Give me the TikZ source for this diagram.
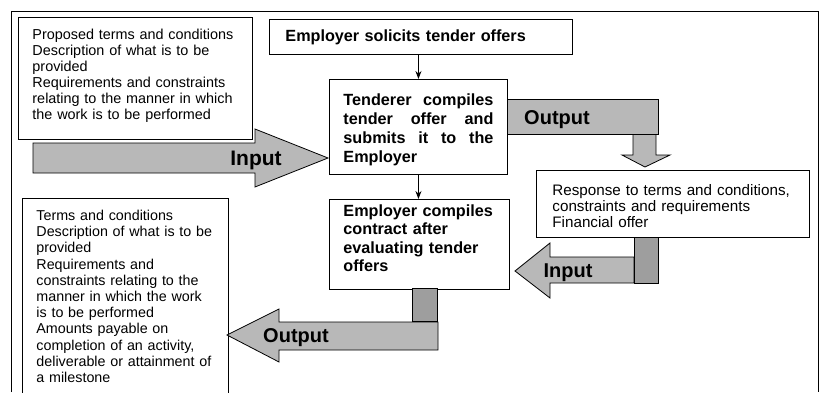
\documentclass[tikz,border=0pt]{standalone}
\usepackage{fontspec}
\setmainfont{Liberation Sans}
\usetikzlibrary{arrows.meta}
\usetikzlibrary{calc}

\definecolor{blockgray}{gray}{0.72}
\definecolor{stubgray}{gray}{0.62}

\begin{document}
\begin{tikzpicture}[x=1pt, y=1pt,
  box/.style={draw, line width=0.9pt, anchor=north west, inner ysep=4pt, align=left},
  plain/.style={font=\fontsize{14.4}{16}\selectfont},
  strong/.style={font=\bfseries\fontsize{16.2}{19}\selectfont},
  block/.style={draw, line width=0.8pt, fill=blockgray, line join=miter},
  stub/.style={draw, line width=0.8pt, fill=stubgray},
  tag/.style={font=\bfseries\fontsize{#1}{#1}\selectfont, inner sep=0pt},
  conn/.style={-{Stealth[length=8pt,width=6pt]}, line width=0.9pt}]
\useasboundingbox (0,0) rectangle (821,392);
\draw[line width=0.9pt] (11,0) |- (818,381) -- (818,0);

% boxes
\node[box, plain, text width=206pt, inner xsep=14pt, inner ysep=9pt, text height=13pt, text depth=91pt] (prop) at (18,375)
  {Proposed terms and conditions\\ Description of what is to be\\ provided\\ Requirements and constraints\\ relating to the manner in which\\ the work is to be performed};
\node[box, strong, text width=271pt, inner xsep=16pt, minimum height=35pt] (solicit) at (269,373) {Employer solicits tender offers};
\node[box, strong, text width=150pt, inner xsep=14pt, text height=22pt, text depth=65pt] (tender) at (329,313)
  {Tenderer\hfill compiles\\ tender\hfill offer\hfill and\\ submits\hfill it\hfill to\hfill the\\ Employer};
\node[box, strong, font=\bfseries\fontsize{16.2}{18.5}\selectfont, text width=152pt, inner xsep=14pt, text height=13pt, text depth=69pt] (emp) at (329,193)
  {Employer compiles\\ contract after\\ evaluating tender\\ offers};
\node[box, font=\fontsize{15.2}{16}\selectfont, text width=241pt, inner xsep=16pt, text height=21pt, text depth=38pt] (resp) at (536,222)
  {Response to terms and conditions,\\ constraints and requirements\\ Financial offer};
\node[box, font=\fontsize{14.3}{16.2}\selectfont, text width=178pt, inner xsep=14pt, text height=18pt, text depth=200pt] (terms) at (22,194)
  {Terms and conditions\\ Description of what is to be\\ provided\\ Requirements and\\ constraints relating to the\\ manner in which the work\\ is to be performed\\ Amounts payable on\\ completion of an activity,\\ deliverable or attainment of\\ a milestone};

\draw[conn] (tender.north |- solicit.south) -- (tender.north);
\draw[conn] (tender.south) -- (tender.south |- emp.north);

% input to the tenderer
\draw[block] (33,249) -- (255,249) -- (255,263) -- (328,234) -- (255,205) -- (255,219) -- (33,219) -- cycle;
\node[tag=21] (inTop) at (256,232) {Input};

% output of the tenderer
\draw[block] (633,258) -- (633,237) -- (622,237) -- (645,225) -- (670,237) -- (656,237) -- (656,258);
\draw[block] (507,293) rectangle (658,258);
\node[tag=20] (outTop) at (557,272) {Output};

% input to the employer
\draw[block] (634,109) -- (550,109) -- (550,94) -- (515,121) -- (550,149) -- (550,135) -- (634,135) -- cycle;
\draw[stub] (634,155) rectangle (658,109);
\node[tag=20] (inLow) at (568,119) {Input};

% output of the employer
\draw[stub] (412,104) rectangle (437,71);
\draw[block] (438,70) -- (279,70) -- (279,83) -- (227,57) -- (279,30) -- (279,42) -- (438,42) -- cycle;
\node[tag=20] (outLow) at (296,54) {Output};
\end{tikzpicture}
\end{document}
